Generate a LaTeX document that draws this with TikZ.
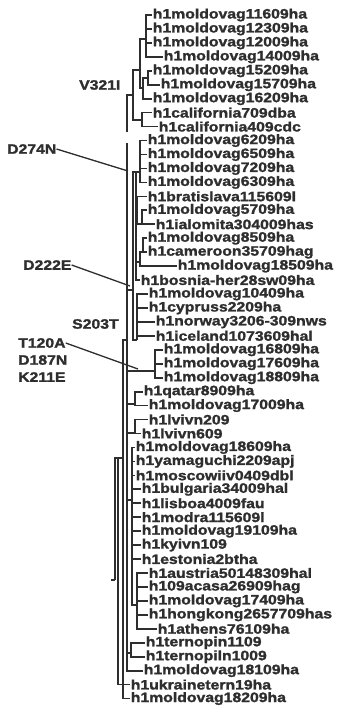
\documentclass[tikz,border=0pt]{standalone}
\usepackage{fontspec}
\newfontfamily\treefont[FakeStretch=1.16,FakeBold=1.6]{Liberation Sans Bold}
\definecolor{ink}{HTML}{2E2E2E}

\begin{document}
\begin{tikzpicture}[x=1pt, y=-1pt,
  leaf/.style={anchor=west, inner sep=0pt, outer xsep=0.8pt, text=ink, font=\treefont\fontsize{13.6}{12}\selectfont},
  mut/.style={anchor=west, inner sep=0pt, text=ink, font=\treefont\fontsize{13.6}{12}\selectfont},
  br/.style={draw=ink, line width=1.7pt},
  ptr/.style={draw=ink, line width=1.3pt}
]
  \useasboundingbox[fill=white] (0,0) rectangle (338,706);

  % leaves, top to bottom
  \foreach \i/\x/\t in {
    1/152/h1moldovag11609ha, 2/152/h1moldovag12309ha, 3/152/h1moldovag12009ha,
    4/163/h1moldovag14009ha, 5/152/h1moldovag15209ha, 6/160/h1moldovag15709ha,
    7/152/h1moldovag16209ha, 8/152/h1california709dba, 9/158/h1california409cdc,
    10/147/h1moldovag6209ha, 11/147/h1moldovag6509ha, 12/147/h1moldovag7209ha,
    13/147/h1moldovag6309ha, 14/147/h1bratislava115609l, 15/147/h1moldovag5709ha,
    16/155/h1ialomita304009has, 17/147/h1moldovag8509ha, 18/147/h1cameroon35709hag,
    19/177/h1moldovag18509ha, 20/140/h1bosnia-her28sw09ha, 21/148/h1moldovag10409ha,
    22/148/h1cypruss2209ha, 23/155/h1norway3206-309nws, 24/155/h1iceland1073609hal,
    25/163/h1moldovag16809ha, 26/163/h1moldovag17609ha, 27/163/h1moldovag18809ha,
    28/143/h1qatar8909ha, 29/148/h1moldovag17009ha, 30/148/h1lvivn209,
    31/141/h1lvivn609, 32/135/h1moldovag18609ha, 33/135/h1yamaguchi2209apj,
    34/135/h1moscowiiv0409dbl, 35/141/h1bulgaria34009hal, 36/141/h1lisboa4009fau,
    37/141/h1modra115609l, 38/141/h1moldovag19109ha, 39/141/h1kyivn109,
    40/141/h1estonia2btha, 41/148/h1austria50148309hal, 42/148/h109acasa26909hag,
    43/148/h1moldovag17409ha, 44/148/h1hongkong2657709has, 45/157/h1athens76109ha,
    46/145/h1ternopin1109, 47/145/h1ternopiln1009, 48/143/h1moldovag18109ha,
    49/130/h1ukrainetern19ha, 50/130/h1moldovag18209ha}
    \node[leaf] (l\i) at (\x,{15+13.95*(\i-1)}) {\t};

  % mutation labels
  \node[mut] (mV321I) at (79,85) {V321I};
  \node[mut] (mD274N) at (7,149) {D274N};
  \node[mut] (mD222E) at (23,265) {D222E};
  \node[mut] (mS203T) at (72,324) {S203T};
  \node[mut] (mT120A) at (18,343) {T120A};
  \node[mut] (mD187N) at (18,360) {D187N};
  \node[mut] (mK211E) at (18,377) {K211E};

  % internal nodes
  \coordinate (a1) at (146,39);
  \coordinate (a2) at (148,78);
  \coordinate (a3) at (143,88);
  \coordinate (a4) at (140,70);
  \coordinate (cal) at (142,120);
  \coordinate (v321) at (133,95);
  \coordinate (topend) at (127,132);
  \coordinate (b1) at (140,172);
  \coordinate (b2a) at (142,224);
  \coordinate (b2) at (137,215);
  \coordinate (b4a) at (143,252);
  \coordinate (b4) at (140,262);
  \coordinate (b5) at (136,172);
  \coordinate (c1) at (137,340);
  \coordinate (b6) at (133,290);
  \coordinate (c2) at (155,371);
  \coordinate (c3) at (135,404);
  \coordinate (c4) at (135,433);
  \coordinate (c6) at (137,605);
  \coordinate (c5) at (132,500);
  \coordinate (c7) at (131,653);
  \coordinate (n3) at (127,340);
  \coordinate (n3top) at (127,143);
  \coordinate (n2) at (123,458);
  \coordinate (n1) at (118,458);
  \coordinate (root) at (115,580);
  \coordinate (rootstem) at (111,580);
  \coordinate (p274) at (128,171);
  \coordinate (p222) at (130,286);
  \coordinate (p120) at (138,369);

  % top clade
  \foreach \k in {1,2,3,4} \draw[br] (a1) |- (l\k.west);
  \foreach \k in {5,6} \draw[br] (a2) |- (l\k.west);
  \draw[br] (a3) |- (a2);
  \draw[br] (a3) |- (l7.west);
  \draw[br] (a4) |- (a1);
  \draw[br] (a4) |- (a3);
  \foreach \k in {8,9} \draw[br] (cal) |- (l\k.west);
  \draw[br] (v321) |- (a4);
  \draw[br] (v321) |- (cal);
  \draw[br] (topend) |- (v321);

  % middle clades
  \foreach \k in {10,...,13} \draw[br] (b1) |- (l\k.west);
  \foreach \k in {15,16} \draw[br] (b2a) |- (l\k.west);
  \draw[br] (b2) |- (l14.west);
  \draw[br] (b2) |- (b2a);
  \foreach \k in {17,18} \draw[br] (b4a) |- (l\k.west);
  \draw[br] (b4) |- (b4a);
  \draw[br] (b4) |- (l19.west);
  \draw[br] (b5) -- (b1);
  \draw[br] (b5) |- (b2);
  \draw[br] (b5) |- (b4);
  \draw[br] (b5) |- (l20.west);
  \foreach \k in {21,...,24} \draw[br] (c1) |- (l\k.west);
  \draw[br] (b6) |- (b5);
  \draw[br] (b6) |- (c1);
  \foreach \k in {25,26,27} \draw[br] (c2) |- (l\k.west);
  \foreach \k in {28,29} \draw[br] (c3) |- (l\k.west);
  \foreach \k in {30,31} \draw[br] (c4) |- (l\k.west);
  \foreach \k in {41,...,45} \draw[br] (c6) |- (l\k.west);
  \foreach \k in {32,...,40} \draw[br] (c5) |- (l\k.west);
  \draw[br] (c5) |- (c6);
  \foreach \k in {46,47} \draw[br] (c7) |- (l\k.west);

  % trunk
  \draw[br] (n3) -- (n3top);
  \draw[br] (n3) |- (b6);
  \draw[br] (n3) |- (c2);
  \draw[br] (n3) |- (c3);
  \draw[br] (n3) |- (c4);
  \draw[br] (n3) |- (c5);
  \draw[br] (n3) |- (c7);
  \draw[br] (n3) |- (l48.west);
  \draw[br] (n2) |- (n3);
  \draw[br] (n2) |- (l50.west);
  \draw[br] (n1) -- (n2);
  \draw[br] (n1) |- (l49.west);
  \draw[br] (root) |- (n1);
  \draw[br] (rootstem) -- (root);

  % pointers
  \draw[ptr] (mD274N.east) -- (p274);
  \draw[ptr] (mD222E.east) -- (p222);
  \draw[ptr] (mT120A.east) -- (p120);
\end{tikzpicture}
\end{document}
